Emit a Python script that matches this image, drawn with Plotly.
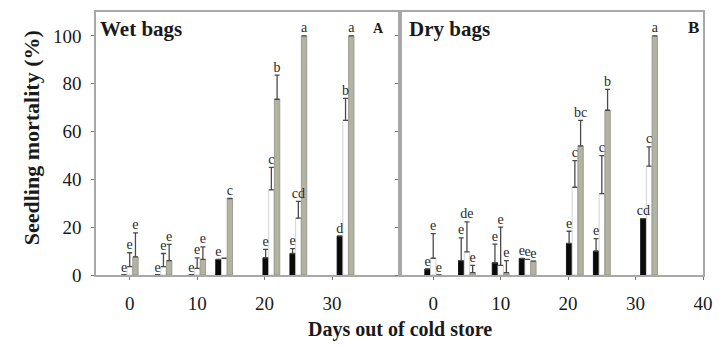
import plotly.graph_objects as go
from plotly.subplots import make_subplots

# Days out of cold store (shared by both panels)
days = [0, 5, 10, 14, 21, 25, 32]

# Wet bags: mean mortality (%) and upper error per treatment
wet_black = [0, 0, 0, 6.5, 7.2, 9.0, 16.3]
wet_black_err = [0, 0, 0, 0, 3.5, 2.0, 0]
wet_white = [3.5, 3.5, 2.8, 7.0, 35.6, 23.8, 64.7]
wet_white_err = [5.8, 5.5, 4.4, 0, 9.4, 7.0, 9.2]
wet_gray = [7.6, 6.0, 6.5, 32.0, 73.5, 100, 100]
wet_gray_err = [10.0, 6.8, 5.3, 0, 10.1, 0, 0]
wet_black_lbl = ["e", "e", "e", "e", "e", "e", "d"]
wet_white_lbl = ["e", "e", "e", "", "c", "cd", "b"]
wet_gray_lbl = ["e", "e", "e", "c", "b", "a", "a"]

# Dry bags
dry_black = [2.5, 6.0, 5.1, 6.9, 13.2, 10.0, 23.6]
dry_black_err = [0, 9.5, 7.8, 0, 5.1, 5.2, 0]
dry_white = [7.0, 9.7, 4.0, 6.5, 36.7, 34.0, 45.5]
dry_white_err = [10.3, 12.5, 16.0, 0, 11.1, 15.9, 8.1]
dry_gray = [0, 1.0, 1.0, 5.8, 54.0, 68.9, 100]
dry_gray_err = [0, 3.0, 5.0, 0, 10.7, 8.7, 0]
dry_black_lbl = ["e", "e", "e", "e", "e", "e", "cd"]
dry_white_lbl = ["e", "de", "e", "e", "c", "c", "c"]
dry_gray_lbl = ["e", "e", "e", "e", "bc", "b", "a"]

SERIF = "Liberation Serif, Times New Roman, serif"
INK = "#1a1a1a"
BAR_W = 0.8
# bar centre relative to the day value for each treatment
SHIFT = {"black": -0.85, "white": 0.0, "gray": 0.85}
STYLE = {
    "black": dict(color="#0a0a0a", line=dict(color="#000000", width=0.8)),
    "white": dict(color="#ffffff", line=dict(color="#c8c8c8", width=0.8)),
    "gray": dict(color="#b3b3a3", line=dict(color="#8f8f82", width=0.8)),
}

fig = make_subplots(rows=1, cols=2, shared_yaxes=False, horizontal_spacing=0)


def add_series(col, name, vals, errs, labels):
    s = SHIFT[name]
    fig.add_trace(
        go.Bar(
            x=days, y=vals, width=BAR_W, offset=s - BAR_W / 2,
            marker=STYLE[name], showlegend=False,
            error_y=dict(type="data", symmetric=False, array=errs,
                         arrayminus=[0] * len(errs), color="#4a4a4a",
                         thickness=1.3, width=2.5),
        ),
        row=1, col=col,
    )
    fig.add_trace(
        go.Scatter(
            x=[d + s for d in days],
            y=[v + e for v, e in zip(vals, errs)],
            mode="text", text=labels, textposition="top center",
            textfont=dict(family=SERIF, size=14, color="#2a2a2a"),
            showlegend=False, cliponaxis=False,
        ),
        row=1, col=col,
    )


for name, v, e, l in [("black", wet_black, wet_black_err, wet_black_lbl),
                      ("white", wet_white, wet_white_err, wet_white_lbl),
                      ("gray", wet_gray, wet_gray_err, wet_gray_lbl)]:
    add_series(1, name, v, e, l)

for name, v, e, l in [("black", dry_black, dry_black_err, dry_black_lbl),
                      ("white", dry_white, dry_white_err, dry_white_lbl),
                      ("gray", dry_gray, dry_gray_err, dry_gray_lbl)]:
    add_series(2, name, v, e, l)

axis_common = dict(
    showline=True, linecolor="#a8a8a8", linewidth=1.6, mirror=True,
    showgrid=False, zeroline=False, ticks="outside", ticklen=3,
    tickcolor="#777777", tickwidth=1,
    tickfont=dict(family=SERIF, size=19, color=INK),
)

fig.update_xaxes(range=[-5, 40], tickvals=[0, 10, 20, 30], ticklabelstandoff=7,
                 **axis_common, row=1, col=1)
fig.update_xaxes(range=[-5, 40], tickvals=[0, 10, 20, 30, 40], ticklabelstandoff=7,
                 **axis_common, row=1, col=2)
fig.update_yaxes(range=[0, 110], tickvals=[0, 20, 40, 60, 80, 100], ticklabelstandoff=6,
                 **axis_common, row=1, col=1)
fig.update_yaxes(range=[0, 110], tickvals=[0, 20, 40, 60, 80, 100], showticklabels=False,
                 **axis_common, row=1, col=2)

fig.update_layout(
    width=723, height=347,
    margin=dict(l=96, r=12, t=10, b=72),
    barmode="overlay",
    plot_bgcolor="#ffffff", paper_bgcolor="#ffffff",
    font=dict(family=SERIF, color=INK),
    annotations=[
        dict(text="<b>Wet bags</b>", x=0.008, y=0.99, xref="x domain", yref="y domain",
             xanchor="left", yanchor="top", showarrow=False,
             font=dict(family=SERIF, size=21, color=INK)),
        dict(text="<b>Dry bags</b>", x=0.025, y=0.99, xref="x2 domain", yref="y2 domain",
             xanchor="left", yanchor="top", showarrow=False,
             font=dict(family=SERIF, size=21, color=INK)),
        dict(text="<b>A</b>", x=0.93, y=0.975, xref="x domain", yref="y domain",
             xanchor="center", yanchor="top", showarrow=False,
             font=dict(family=SERIF, size=14, color=INK)),
        dict(text="<b>B</b>", x=0.97, y=0.985, xref="x2 domain", yref="y2 domain",
             xanchor="center", yanchor="top", showarrow=False,
             font=dict(family=SERIF, size=17, color=INK)),
        dict(text="<b>Days out of cold store</b>", x=0.5, y=-0.2075, xref="paper", yref="paper",
             xanchor="center", yanchor="middle", showarrow=False,
             font=dict(family=SERIF, size=20, color=INK)),
        dict(text="<b>Seedling mortality (%)</b>", x=-0.107, y=0.52, xref="paper", yref="paper",
             xanchor="center", yanchor="middle", textangle=-90, showarrow=False,
             font=dict(family=SERIF, size=22, color=INK)),
    ],
)

fig.write_html("out.html")
